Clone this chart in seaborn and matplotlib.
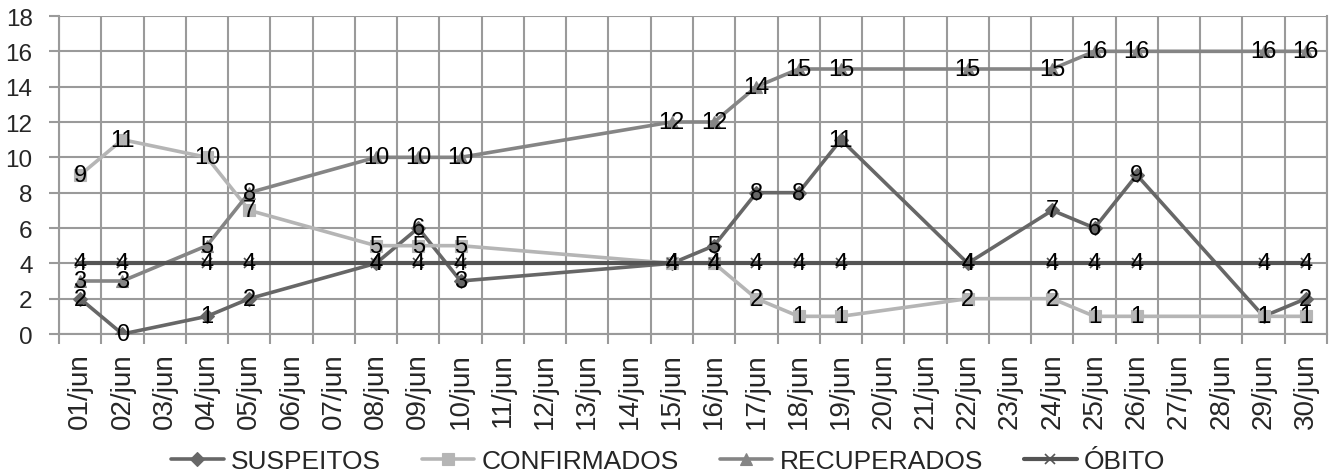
import matplotlib
matplotlib.use("Agg")
import matplotlib.pyplot as plt
import seaborn as sns
import pandas as pd
import numpy as np
from matplotlib.ticker import FixedLocator, MultipleLocator

# Categories on the x axis (every day of June)
dias = [f"{d:02d}/jun" for d in range(1, 31)]

# Days with reported values
datas = ["01/jun", "02/jun", "04/jun", "05/jun", "08/jun", "09/jun", "10/jun",
         "15/jun", "16/jun", "17/jun", "18/jun", "19/jun", "22/jun", "24/jun",
         "25/jun", "26/jun", "29/jun", "30/jun"]

suspeitos = [2, 0, 1, 2, 4, 6, 3, 4, 5, 8, 8, 11, 4, 7, 6, 9, 1, 2]
confirmados = [9, 11, 10, 7, 5, 5, 5, 4, 4, 2, 1, 1, 2, 2, 1, 1, 1, 1]
recuperados = [3, 3, 5, 8, 10, 10, 10, 12, 12, 14, 15, 15, 15, 15, 16, 16, 16, 16]
obito = [4] * 18

series = [
    ("SUSPEITOS", suspeitos, "#676767", "D", 7),
    ("CONFIRMADOS", confirmados, "#b5b5b5", "s", 8),
    ("RECUPERADOS", recuperados, "#858585", "^", 8),
    ("ÓBITO", obito, "#545454", "x", 7),
]

sns.set_theme(style="white")
plt.rcParams["font.family"] = ["Liberation Sans", "DejaVu Sans"]

fig = plt.figure(figsize=(13.36, 4.77), dpi=100)
ax = fig.add_axes([59 / 1336, 1 - 335 / 477, (1327 - 59) / 1336, (335 - 17) / 477])

pos = {d: i for i, d in enumerate(dias)}
xs = [pos[d] for d in datas]

for nome, vals, cor, mk, ms in series:
    df = pd.DataFrame({"x": xs, "y": vals})
    sns.lineplot(data=df, x="x", y="y", ax=ax, color=cor,
                 lw=3.0 if nome == "ÓBITO" else 2.6,
                 marker=mk, markersize=ms, markerfacecolor=cor,
                 markeredgecolor=cor, markeredgewidth=1.2 if mk == "x" else 0.8,
                 label=nome, zorder=3)

for nome, vals, cor, mk, ms in series:
    for x, v in zip(xs, vals):
        ax.text(x, v, str(v), ha="center", va="center", fontsize=17,
                color="black", zorder=5)

ax.set_xlim(-0.5, 29.5)
ax.set_ylim(0, 18)
ax.yaxis.set_major_locator(MultipleLocator(2))
ax.set_xticks(range(30))
ax.set_xticklabels(dias, rotation=90, fontsize=20)
ax.xaxis.set_minor_locator(FixedLocator(np.arange(-0.5, 30, 1)))
ax.tick_params(axis="x", which="major", length=0, pad=13)
ax.tick_params(axis="x", which="minor", length=7, width=1.5, color="#9a9a9a",
               direction="out", bottom=True)
ax.tick_params(axis="y", which="major", length=7, width=1.5, color="#9a9a9a",
               direction="out", left=True, labelsize=17.5, pad=12)
ax.set_xlabel("")
ax.set_ylabel("")

ax.grid(False)
ax.grid(axis="y", which="major", color="#9a9a9a", lw=1.5)
ax.grid(axis="x", which="minor", color="#9a9a9a", lw=1.5)
for s in ax.spines.values():
    s.set_color("#9a9a9a")
    s.set_linewidth(1.5)
ax.spines["top"].set_visible(False)

leg = ax.legend(loc="center", bbox_to_anchor=(0.5, 15 / 477),
                bbox_transform=fig.transFigure, ncol=4, frameon=False,
                fontsize=19,
                handlelength=2.0, handletextpad=0.27, columnspacing=1.55,
                borderpad=0, borderaxespad=0)

fig.savefig("out.png", dpi=100)
